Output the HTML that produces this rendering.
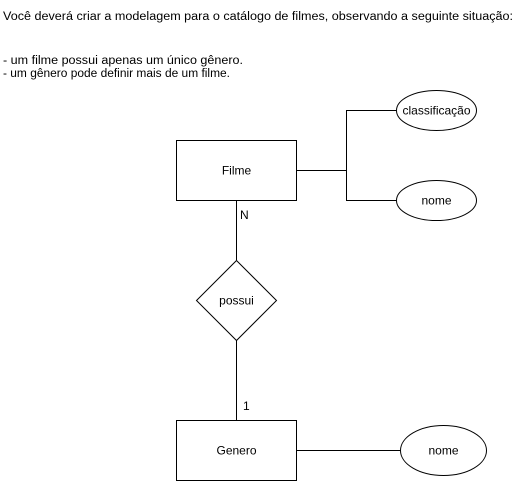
<!DOCTYPE html>
<html><head><meta charset="utf-8"><style>
html,body{margin:0;padding:0;background:#fff;}
svg{display:block}
text{font-family:"Liberation Sans",Arial,sans-serif;fill:#000}
</style></head><body>
<svg width="520" height="481" viewBox="0 0 520 481" xmlns="http://www.w3.org/2000/svg">
<text x="3" y="20" font-size="11.5" textLength="510" lengthAdjust="spacingAndGlyphs">Você deverá criar a modelagem para o catálogo de filmes, observando a seguinte situação:</text>
<text x="3" y="64" font-size="11.5" textLength="240" lengthAdjust="spacingAndGlyphs">- um filme possui apenas um único gênero.</text>
<text x="3" y="77" font-size="11.5" textLength="227" lengthAdjust="spacingAndGlyphs">- um gênero pode definir mais de um filme.</text>
<g stroke="#000" stroke-width="1" fill="none">
<rect x="176.5" y="140.5" width="120" height="60" fill="#fff"/>
<polyline points="296,170.5 346.5,170.5"/>
<polyline points="396,110.5 346.5,110.5 346.5,200.5 396,200.5"/>
<ellipse cx="436.5" cy="110.5" rx="40" ry="20" fill="#fff"/>
<ellipse cx="436.5" cy="200.5" rx="40" ry="20" fill="#fff"/>
<line x1="236.5" y1="200" x2="236.5" y2="260"/>
<polygon points="236.5,260.5 276.5,300.5 236.5,340.5 196.5,300.5" fill="#fff"/>
<line x1="236.5" y1="340" x2="236.5" y2="420"/>
<rect x="176.5" y="420.5" width="120" height="60" fill="#fff"/>
<line x1="296" y1="450.5" x2="400" y2="450.5"/>
<ellipse cx="443.5" cy="450.5" rx="43" ry="25" fill="#fff"/>
</g>
<g font-size="12" text-anchor="middle">
<text x="236.5" y="174.5">Filme</text>
<text x="436.5" y="114.5">classificação</text>
<text x="436.5" y="204.5">nome</text>
<text x="236.5" y="304.5">possui</text>
<text x="236.5" y="454.5">Genero</text>
<text x="443.5" y="454.5">nome</text>
</g>
<text x="240" y="219" font-size="12">N</text>
<text x="243" y="410" font-size="12">1</text>
</svg>
</body></html>
